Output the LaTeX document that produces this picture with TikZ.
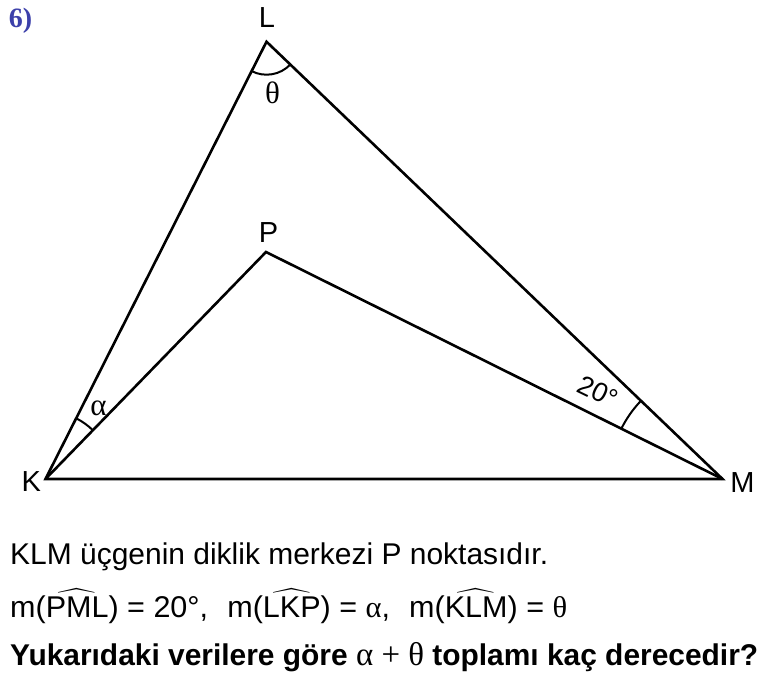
\documentclass[tikz,border=0pt]{standalone}
\usepackage{fontspec}
\usepackage{amsmath}
\usepackage{graphicx}
\setmainfont{Liberation Sans}
\newfontfamily\grk{Liberation Serif}
\usetikzlibrary{angles}
\definecolor{qblue}{RGB}{60,64,170}
\begin{document}
\begin{tikzpicture}[x=1pt,y=1pt,
  edge/.style={line width=2.6pt, line join=miter},
  anglemark/.style={draw, line width=2pt},
  vlabel/.style={inner sep=0pt, font=\fontsize{29}{33}\selectfont},
  glabel/.style={inner sep=0pt, font=\fontsize{31}{34}\selectfont\grk},
  textline/.style={inner sep=0pt, anchor=base west, font=\fontsize{30}{34}\selectfont}]
\useasboundingbox (0,0) rectangle (778,685);
\coordinate (K) at (45.5,206);
\coordinate (L) at (266.5,643.3);
\coordinate (M) at (722.5,206);
\coordinate (P) at (266,433);
\draw[edge] (K) -- (L) -- (M) -- cycle;
\draw[edge] (K) -- (P) -- (M);
\pic[anglemark, angle radius=33pt] {angle = K--L--M};
\pic[anglemark, angle radius=68pt] {angle = P--K--L};
\pic[anglemark, angle radius=113pt] {angle = L--M--P};
\node[vlabel] (lL) at (267,667) {L};
\node[vlabel] (lP) at (268.5,452.5) {P};
\node[vlabel] (lK) at (31.3,203) {K};
\node[vlabel] (lM) at (742.5,202.5) {M};
\node[glabel] (th) at (272.5,592.5) {θ};
\node[glabel] (al) at (98.5,276.5) {α};
\node[inner sep=0pt, rotate=-26, font=\fontsize{27}{30}\selectfont] (tw) at (598,293) {20°};
\node[inner sep=0pt, text=qblue, font=\fontsize{28}{32}\selectfont\grk\bfseries] (num) at (20.5,664) {6)};
\node[textline] (t1) at (10,121) {\resizebox{538pt}{\height}{KLM üçgenin diklik merkezi P noktasıdır.}};
\node[textline] (t2) at (10,68) {\resizebox{557pt}{\height}{m($\widehat{\text{PML}}$) = 20°,\hspace{0.35em} m($\widehat{\text{LKP}}$) = {\grk α},\hspace{0.35em} m($\widehat{\text{KLM}}$) = {\grk θ}}};
\node[textline] (t3) at (10,20) {\resizebox{748pt}{\height}{\bfseries Yukarıdaki verilere göre {\grk\mdseries\fontsize{33}{36}\selectfont α + θ} toplamı kaç derecedir?}};
\end{tikzpicture}
\end{document}
